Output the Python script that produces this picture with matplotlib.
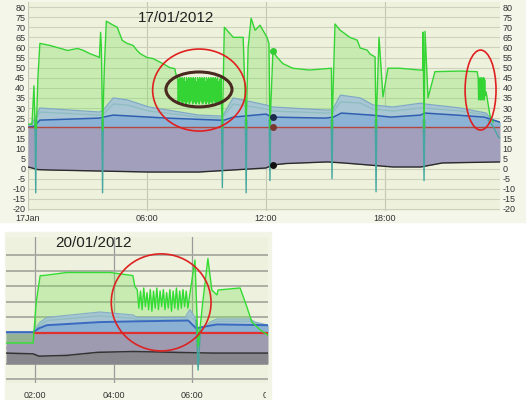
import matplotlib.pyplot as plt
import numpy as np
from matplotlib.patches import Ellipse, Rectangle
from matplotlib.transforms import Bbox

plt.rcParams['font.family'] = ['Liberation Sans', 'DejaVu Sans']
plt.rcParams['axes.unicode_minus'] = False

# ---------------- 17/01/2012 (hours after midnight) ----------------
green_t1 = [0.0, 0.2, 0.3, 0.36, 0.42, 0.5, 0.6, 1.1, 2.0, 2.5, 2.8, 3.1, 3.5, 3.6, 3.66, 3.7,
            3.76, 3.85, 3.95, 4.3, 4.5, 4.75, 5.0, 5.3, 5.5, 5.65, 6.0, 6.3, 6.8, 7.15, 7.4, 7.5]
green_v1 = [22, 22, 41, 20, 20, 45, 62, 61, 58.5, 59.5, 58.5, 57, 55.5, 55, 67.5, 60,
            19, 50, 73, 71, 70, 63.5, 62, 61, 58.5, 57, 55, 54.5, 52, 50, 49.5, 45]
# dense on/off cycling, 07:33 - 09:45
osc1 = [45, 33, 44, 32, 45, 34, 44, 33, 45, 32, 44, 34, 45, 33, 43, 32, 45, 33, 44, 34,
        45, 32, 44, 33, 45, 34, 44, 32, 45, 33, 44, 33, 45, 32, 43, 34, 45, 33, 44, 32,
        45, 34, 44, 33, 45, 32, 44, 33, 45, 34, 43, 32, 45, 33, 44, 34, 45, 32, 44, 33,
        45, 33, 44, 32, 45, 34, 44, 33, 45, 32, 44, 34, 45, 33, 43, 32, 44, 33, 45, 34]
osc1_span = (7.55, 9.75)
green_t2 = [9.8, 9.9, 10.35, 10.85, 11.0, 11.1, 11.25, 11.45, 11.7, 12.05,
            12.15, 12.2, 12.35, 12.55, 12.85, 13.35, 14.2, 15.3, 15.33, 15.48,
            15.73, 16.23, 16.6, 16.75, 17.1, 17.25, 17.5, 17.55, 17.7, 17.9,
            18.15, 18.75, 19.75, 19.9, 19.92, 19.97, 20.02, 20.17, 20.52, 21.8, 22.65]
green_v2 = [20, 70, 65, 65, 20, 60, 74.5, 68.5, 71, 65,
            62, 20, 58, 55.3, 52, 49.7, 48.8, 49.7, 20, 71.6,
            68.6, 65, 63.6, 59.7, 58.7, 56.7, 55.3, 20, 65, 35.5,
            49.7, 49.7, 48.8, 48.8, 67.6, 20, 68, 35, 48, 48.3, 48]
osc2 = [45, 34, 44, 35, 45, 34, 44, 35, 45, 34, 44, 35, 45, 34, 44, 36]
osc2_span = (22.7, 23.05)
green_t3 = [23.1, 23.3, 23.45]
green_v3 = [38, 26, 23]

db_t = [0.0, 0.3, 0.6, 3.6, 3.8, 4.3, 7.0, 9.6, 9.9, 10.35, 12.0, 12.3, 15.0, 15.4, 15.8,
        17.3, 18.3, 19.8, 20.0, 21.6, 23.0, 23.8]
db_v = [20.5, 21, 24, 25, 25.5, 26.5, 25, 24, 24, 25.5, 27, 25.5, 25, 25.5, 27.5,
        26.5, 25.5, 26.5, 27.5, 26.5, 25.5, 23]

ul_t = [0.0, 0.3, 0.6, 3.6, 3.8, 4.3, 5.0, 6.1, 8.6, 9.8, 10.35, 12.0, 12.35, 15.0, 15.35,
        15.75, 16.75, 17.4, 18.4, 19.8, 20.0, 21.8, 23.1, 23.4, 23.8]
ul_v = [20.5, 24, 30, 28, 29, 35, 34, 30.5, 26.5, 26, 35, 31.5, 30.5, 29, 29,
        36.4, 35, 31.5, 30.5, 32.4, 32, 30, 27.5, 24, 23]
ml_v = [20.5, 23, 28, 26.5, 27, 32, 31.5, 28.5, 25.5, 25, 32, 29.5, 28.5, 27.5, 27.5,
        33, 32.5, 29.5, 28.5, 30, 30, 28.5, 26.5, 23.5, 22.5]

red_level = 20.5

black_t = [0.0, 0.2, 0.5, 1.1, 3.6, 6.1, 8.6, 10.3, 12.0, 12.35, 13.0, 15.1, 15.9,
           18.4, 19.8, 20.9, 23.8]
black_v = [0.8, 0.3, -0.5, -0.7, -1.2, -1.7, -1.7, -0.7, 0.3, 1.8, 2.5, 3.3, 2.8,
           0.8, 0.8, 2.8, 3.3]

spike_t = [0.39, 3.76, 9.8, 11.0, 12.2, 15.33, 17.55, 19.97]
spike_min = [-12, -12, -9.5, -12, -6, -5, -11.5, -6]
tail_t = [23.2, 23.45, 23.7, 23.8]
tail_v = [24, 21, 16, 15]

marker_t = 12.35
marker_v = [58, 25.5, 20.6, 1.8]
marker_c = ['#33cc33', '#1c2a4c', '#7a3a30', '#111111']

# ---------------- 20/01/2012 ----------------
b_green_t1 = [1.26, 1.95, 2.03, 2.13, 2.2, 2.81, 3.65, 3.91, 4.49, 4.54]
b_green_v1 = [13.5, 13.5, 40, 57, 57, 59, 59, 59, 57, 50]
b_osc = [48, 36, 47, 35, 49, 37, 46, 35, 48, 34, 47, 36, 49, 35, 47, 37,
         48, 35, 46, 36, 48, 34, 47, 36, 49, 35, 47, 36, 48, 37, 47, 36]
b_osc_span = (4.6, 5.89)
b_green_t2 = [5.94, 6.07, 6.15, 6.27, 6.40, 6.5, 6.63, 6.66, 7.22, 7.39, 7.52, 7.73, 7.93]
b_green_v2 = [45, 67, 11, 40, 68, 47.7, 44.5, 47.7, 49, 37, 27, 22, 18.5]

b_ul_t = [1.26, 1.95, 2.13, 2.3, 3.65, 4.49, 4.6, 5.82, 5.94, 6.07, 6.15, 6.27, 6.45,
          6.63, 7.47, 7.6, 7.93]
b_ul_v = [20.5, 20.5, 27, 30, 33.5, 31.6, 30, 30, 35, 30, 22, 22, 27, 29, 29, 27, 25]
b_ml_v = [20.5, 20.5, 25, 28, 31, 29.5, 28.5, 28.5, 31, 28, 22, 22, 25.5, 27.5, 27.5, 26, 24.5]
b_db_t = [1.26, 1.95, 2.1, 2.3, 3.65, 4.6, 5.9, 6.1, 6.3, 6.63, 7.93]
b_db_v = [20.5, 20.5, 23, 25, 27, 27.5, 28, 23, 24, 25.5, 25]
b_red_t = [1.97, 7.93]
b_red_level = 20
b_black_t = [1.26, 1.95, 2.1, 2.8, 3.6, 4.5, 5.5, 6.5, 7.93]
b_black_v = [7, 6.5, 5, 5.5, 7.5, 8, 7.5, 7, 7]
b_floor = 0
b_spike_t = [6.15]
b_spike_min = [-4]

fig = plt.figure(figsize=(5.26, 4.0), dpi=100)
fig.patches.append(Rectangle((0, 1 - 222 / 400), 1, 222 / 400, transform=fig.transFigure,
                             color='#f4f6ea', zorder=-5))
fig.patches.append(Rectangle((5 / 526, 0), 266 / 526, 168 / 400, transform=fig.transFigure,
                             color='#f2f5e6', zorder=-5))

# ---------------- top panel ----------------
ax = fig.add_axes([28 / 526, 1 - 211 / 400, 472 / 526, 209 / 400])
ax.set_facecolor('#eef2dc')
gt = np.concatenate([green_t1, np.linspace(*osc1_span, len(osc1)), green_t2,
                     np.linspace(*osc2_span, len(osc2)), green_t3])
gv = np.concatenate([green_v1, osc1, green_v2, osc2, green_v3])

ax.fill_between(gt, red_level, gv, color='#7fe060', alpha=0.35, lw=0, zorder=1)
ax.fill_between(ul_t, red_level, ul_v, color='#a8c6d4', lw=0, zorder=2)
ax.fill_between(db_t, red_level, db_v, color='#8cb2d6', lw=0, zorder=2)
ax.fill_between(black_t, black_v, red_level, color='#a29fbd', lw=0, zorder=2)
ax.plot(ul_t, ul_v, color='#7fa8c8', lw=0.9, zorder=3)
ax.plot(ul_t, ml_v, color='#8dbdc0', lw=0.9, zorder=3)
ax.plot(db_t, db_v, color='#2f5fb0', lw=1.1, zorder=3)
ax.plot([0, 23.8], [red_level, red_level], color='#b04a40', lw=1.0, zorder=3)
ax.plot(black_t, black_v, color='#2a2a2a', lw=1.0, zorder=3)
for t, m in zip(spike_t, spike_min):
    ax.plot([t - 0.04, t, t + 0.04], [24, m, 24], color='#45a8a0', lw=1.0, zorder=4)
ax.plot(tail_t, tail_v, color='#45a8a0', lw=1.0, zorder=4)
ax.plot(gt, gv, color='#35d435', lw=1.0, zorder=5)
for v, c in zip(marker_v, marker_c):
    ax.plot(marker_t, v, 'o', color=c, ms=4, zorder=6)

ax.add_patch(Ellipse((8.63, 38.9), 4.69, 40.6, fill=False, ec='#e02020', lw=1.2, zorder=7))
ax.add_patch(Ellipse((8.62, 39.2), 3.33, 17.3, fill=False, ec='#4a2a20', lw=2.2, zorder=7))
ax.add_patch(Ellipse((22.82, 38.9), 1.56, 39.6, fill=False, ec='#e02020', lw=1.2, zorder=7))

ax.set_xlim(0, 23.8)
ax.set_ylim(-21, 82.5)
ax.set_yticks(range(-20, 81, 5))
ax.set_xticks([0, 6, 12, 18])
ax.set_xticklabels(['17Jan', '06:00', '12:00', '18:00'])
ax.grid(True, axis='y', color='#cdd1bd', lw=0.8)
ax.grid(True, axis='x', color='#c3c7b3', lw=0.8)
ax.set_axisbelow(True)
ax.tick_params(length=0, labelsize=6.5, labelcolor='#333333')
ax.tick_params(axis='y', labelright=True, pad=2)
ax.tick_params(axis='x', pad=2)
for s in ax.spines.values():
    s.set_visible(False)
fig.text(176 / 526, 1 - 18 / 400, '17/01/2012', fontsize=11, ha='center', va='center',
         color='#222222')

# ---------------- bottom panel ----------------
ax2 = fig.add_axes([6 / 526, 1 - 383 / 400, 262 / 526, 146 / 400])
ax2.set_facecolor('#eef1dd')
bt = np.concatenate([b_green_t1, np.linspace(*b_osc_span, len(b_osc)), b_green_t2])
bv = np.concatenate([b_green_v1, b_osc, b_green_v2])

ax2.fill_between(b_black_t, b_floor, b_black_v, color='#88878e', lw=0, zorder=2)
ax2.fill_between(b_black_t, b_black_v, b_red_level, color='#9e9bb0', lw=0, zorder=2)
ax2.fill_between(bt, b_red_level, bv, color='#7fe060', alpha=0.35, lw=0, zorder=2)
ax2.fill_between(b_ul_t, b_red_level, b_ul_v, color='#a6c4d2', lw=0, zorder=2)
ax2.fill_between(b_db_t, b_red_level, b_db_v, color='#8ab0d4', lw=0, zorder=2)
ax2.plot(b_ul_t, b_ul_v, color='#86b0c8', lw=0.9, zorder=3)
ax2.plot(b_ul_t, b_ml_v, color='#8dbdc0', lw=0.9, zorder=3)
ax2.plot(b_db_t, b_db_v, color='#3a6ac0', lw=1.4, zorder=3)
ax2.plot(b_red_t, [b_red_level] * 2, color='#e03030', lw=1.6, zorder=3)
ax2.plot(b_black_t, b_black_v, color='#333333', lw=1.1, zorder=3)
for t, m in zip(b_spike_t, b_spike_min):
    ax2.plot([t - 0.05, t, t + 0.06], [28, m, 22], color='#45a8a0', lw=1.0, zorder=4)
ax2.plot(bt, bv, color='#33dd33', lw=1.0, zorder=5)
ax2.add_patch(Ellipse((5.21, 39.7), 2.54, 62.6, fill=False, ec='#dd2222', lw=1.2, zorder=7))

ax2.set_xlim(1.26, 7.93)
ax2.set_ylim(-12.3, 81.9)
ax2.set_yticks(range(-10, 71, 10))
ax2.set_xticks([2, 4, 6])
ax2.set_xticklabels(['02:00', '04:00', '06:00'])
ax2.grid(True, axis='y', color='#a8a8a0', lw=1.3)
ax2.grid(True, axis='x', color='#9a9a9a', lw=0.9)
ax2.set_axisbelow(True)
ax2.tick_params(length=0, labelsize=6.5, labelcolor='#333333', pad=6)
ax2.tick_params(axis='y', labelleft=False)
for s in ax2.spines.values():
    s.set_visible(False)
cut = ax2.text(8.08, -0.085, '08:00', transform=ax2.get_xaxis_transform(), fontsize=6.5,
               ha='center', va='center', color='#333333')
cut.set_clip_box(Bbox([[0, 0], [266, 400]]))
cut.set_clip_on(True)
fig.text(93 / 526, 1 - 243 / 400, '20/01/2012', fontsize=11, ha='center', va='center',
         color='#222222')

fig.savefig('out.png', dpi=100)
